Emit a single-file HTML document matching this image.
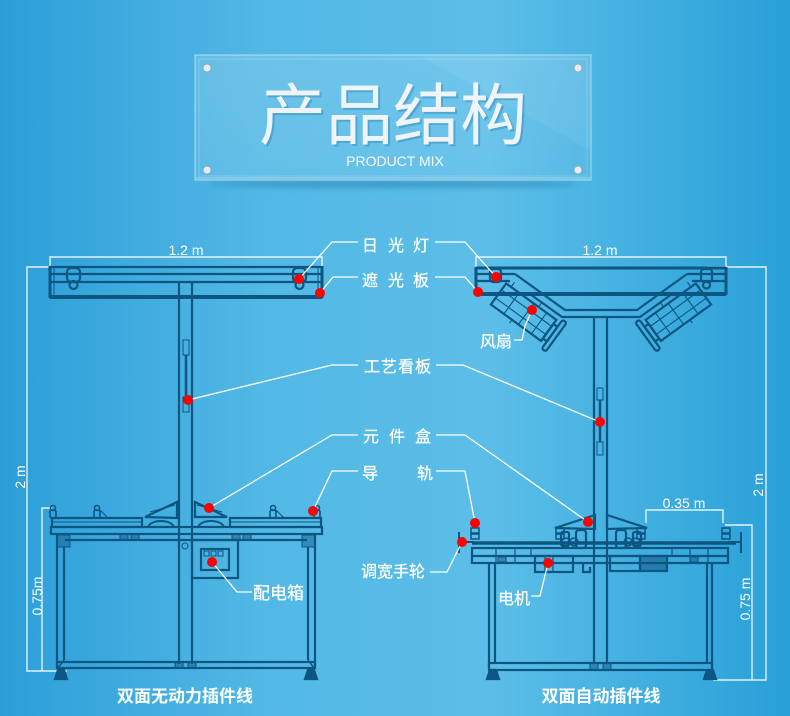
<!DOCTYPE html>
<html><head><meta charset="utf-8">
<style>
html,body{margin:0;padding:0;width:790px;height:716px;overflow:hidden;background:#4fb5e3}
svg{display:block}
text{font-family:"Liberation Sans","Noto Sans CJK SC",sans-serif;fill:#fff}
</style></head><body>
<svg width="790" height="716" viewBox="0 0 790 716" xmlns="http://www.w3.org/2000/svg">
<defs>
<linearGradient id="bg" x1="0" y1="0" x2="1" y2="0">
<stop offset="0" stop-color="#2b9ed8"/>
<stop offset="0.33" stop-color="#52b8e5"/>
<stop offset="0.62" stop-color="#5cbee8"/>
<stop offset="1" stop-color="#28a0d8"/>
</linearGradient>
<linearGradient id="pn" x1="0" y1="0" x2="1" y2="1">
<stop offset="0" stop-color="#ffffff" stop-opacity="0.16"/>
<stop offset="1" stop-color="#ffffff" stop-opacity="0.06"/>
</linearGradient>
<filter id="bl" x="-20%" y="-200%" width="140%" height="500%"><feGaussianBlur stdDeviation="3"/></filter>
</defs>
<rect width="790" height="716" fill="url(#bg)"/>

<!-- title panel -->
<ellipse cx="393" cy="184" rx="185" ry="4" fill="#0b5f93" opacity="0.35" filter="url(#bl)"/>
<rect x="195" y="55" width="396" height="125" fill="url(#pn)" stroke="#ffffff" stroke-opacity="0.45" stroke-width="1.2"/>
<rect x="199" y="59" width="388" height="117" fill="none" stroke="#ffffff" stroke-opacity="0.2"/>
<polygon points="420,56 590,56 590,150" fill="#ffffff" opacity="0.06"/>
<line x1="196" y1="178" x2="590" y2="178" stroke="#ffffff" stroke-opacity="0.45"/>
<g fill="#e4edf2" stroke="#8fa9b8" stroke-width="1">
<circle cx="207" cy="68" r="4"/><circle cx="578" cy="68" r="4"/>
<circle cx="207" cy="170" r="4"/><circle cx="578" cy="170" r="4"/>
</g>
<text x="395" y="141" font-size="67" text-anchor="middle" style="fill:#2a7fae;opacity:0.4">产品结构</text>
<text x="393" y="139" font-size="67" text-anchor="middle" style="fill:#eef4f8">产品结构</text>
<text x="395" y="166" font-size="14" text-anchor="middle" style="fill:#f4fafd">PRODUCT MIX</text>

<!-- dimension lines -->
<g stroke="#ffffff" stroke-opacity="0.85" stroke-width="1.4" fill="none">
<path d="M50,267V257H322V267"/>
<path d="M50,267H27V671H67"/>
<path d="M52,508H42V671"/>
<path d="M476,268V257H726V268"/>
<path d="M707,267H766V680H713"/>
<path d="M725,525H752V680"/>
<path d="M646,523V510H723V523"/>
</g>
<text x="186" y="255" font-size="14" text-anchor="middle">1.2 m</text>
<text x="600" y="255" font-size="14" text-anchor="middle">1.2 m</text>
<text x="684" y="508" font-size="14" text-anchor="middle">0.35 m</text>
<text transform="translate(25,477) rotate(-90)" font-size="14" text-anchor="middle">2 m</text>
<text transform="translate(42,596) rotate(-90)" font-size="14" text-anchor="middle">0.75m</text>
<text transform="translate(763,485) rotate(-90)" font-size="14" text-anchor="middle">2 m</text>
<text transform="translate(750,599) rotate(-90)" font-size="14" text-anchor="middle">0.75 m</text>

<!-- LEFT MACHINE -->
<g stroke="#0c5681" fill="none" stroke-width="2.2">
<path d="M50,267H322M50,274H322M50,282H322"/>
<path d="M50,297H322" stroke-width="4"/>
<path d="M50,266V298M322,266V298" stroke-width="3"/>
<path d="M54,267V297M318,267V297" stroke-width="1"/>
<rect x="67" y="268" width="13" height="14" rx="4"/>
<circle cx="73.5" cy="285" r="4"/>
<rect x="293" y="268" width="13" height="14" rx="4"/>
<circle cx="299.5" cy="285" r="4"/>
<path d="M179,282V664M192,282V664"/>
<rect x="183" y="340" width="6" height="15" stroke-width="1"/>
<rect x="183" y="397" width="6" height="15" stroke-width="1"/>
<path d="M186,355V397" stroke-width="2.5"/>
<!-- bench -->
<rect x="52" y="518" width="90" height="9"/>
<rect x="230" y="518" width="91" height="9"/>
<path d="M52,522H142M230,522H321" stroke-width="1"/>
<rect x="51" y="527" width="271" height="7"/>
<path d="M65,540H307"/>
<path d="M145,517L177,502V518Z"/>
<path d="M195,502L227,517H195Z"/>
<path d="M148,527C151,519 171,519 174,527M198,527C201,519 221,519 224,527" stroke-width="2"/>
<path d="M150,512L175,505M197,505L222,512" stroke-width="1"/>
<g stroke-width="1.6">
<rect x="50" y="510" width="6" height="8" rx="2"/><circle cx="53" cy="508" r="2.5"/>
<rect x="94" y="510" width="6" height="8" rx="2"/><circle cx="97" cy="508" r="2.5"/>
<rect x="270" y="510" width="6" height="8" rx="2"/><circle cx="273" cy="508" r="2.5"/>
<rect x="314" y="510" width="6" height="8" rx="2"/><circle cx="317" cy="508" r="2.5"/>
<path d="M100,510L108,518M276,510L284,518" stroke-width="1"/>
</g>
<rect x="57" y="535" width="13" height="12" fill="#0c5681" fill-opacity="0.45" stroke-width="1"/>
<rect x="302" y="535" width="13" height="12" fill="#0c5681" fill-opacity="0.45" stroke-width="1"/>
<rect x="120" y="534" width="8" height="6" fill="#0c5681" fill-opacity="0.5" stroke-width="1"/>
<rect x="131" y="534" width="8" height="6" fill="#0c5681" fill-opacity="0.5" stroke-width="1"/>
<rect x="232" y="534" width="8" height="6" fill="#0c5681" fill-opacity="0.5" stroke-width="1"/>
<rect x="243" y="534" width="8" height="6" fill="#0c5681" fill-opacity="0.5" stroke-width="1"/>
<path d="M57,534V666M64,547V660M308,547V660M315,534V666"/>
<rect x="57" y="662" width="258" height="6"/>
<path d="M64,660L58,668M308,660L314,668" stroke-width="1.5"/>
<rect x="175" y="662" width="8" height="6" fill="#0c5681" fill-opacity="0.5" stroke-width="1"/>
<rect x="188" y="662" width="8" height="6" fill="#0c5681" fill-opacity="0.5" stroke-width="1"/>
<polygon points="58,670 64,670 67,679 55,679" fill="#0c5681"/>
<polygon points="308,670 314,670 317,679 305,679" fill="#0c5681"/>
<rect x="192" y="540" width="46" height="38"/>
<rect x="201" y="549" width="28" height="21"/>
<g stroke-width="1"><rect x="204" y="551" width="5" height="5"/><rect x="211" y="551" width="5" height="5"/><rect x="218" y="551" width="5" height="5"/></g>
<circle cx="185" cy="546" r="3" stroke-width="1"/>
</g>

<!-- RIGHT MACHINE -->
<g stroke="#0c5681" fill="none" stroke-width="2.2">
<path d="M476,268H726" stroke-width="3"/>
<path d="M476,294H726" stroke-width="4"/>
<path d="M476,267V295M726,267V295" stroke-width="3"/>
<path d="M476,274H515M476,281H510M687,274H726M692,281H726"/>
<rect x="490" y="269" width="11" height="13" rx="3"/>
<rect x="701" y="269" width="11" height="13" rx="3"/>
<circle cx="706.5" cy="285" r="3.5"/>
<path d="M515,274L565,310H637L687,274"/>
<path d="M530,294L562,317H640L672,294"/>
<g id="fan" transform="translate(524,310) rotate(36)">
<rect x="-30" y="-11" width="62" height="26"/>
<path d="M-30,-3H32M-30,7H32M-14,-11V15M4,-11V15M20,-11V15" stroke-width="1.1"/>
<path d="M-24,-11V-17M10,-11V-17M-4,15V19" stroke-width="1.1"/>
<rect x="32" y="-6" width="5" height="18"/>
<rect x="37" y="-15" width="5" height="36" rx="2.5"/>
</g>
<use href="#fan" transform="translate(1202,0) scale(-1,1)"/>
<path d="M594,317V664M607,317V664"/>
<rect x="597" y="388" width="6" height="12" stroke-width="1"/>
<rect x="597" y="442" width="6" height="13" stroke-width="1"/>
<path d="M600,400V442" stroke-width="2.5"/>
<!-- bench -->
<path d="M472,543H736" stroke-width="3.5"/>
<rect x="472" y="548" width="256" height="15"/>
<path d="M472,556H728"/>
<path d="M496,548V563M515,548V563M531,548V556M672,548V556M690,548V563M708,548V563" stroke-width="1.2"/>
<rect x="498" y="557" width="8" height="5" fill="#0c5681" fill-opacity="0.5" stroke-width="1"/>
<rect x="690" y="557" width="8" height="5" fill="#0c5681" fill-opacity="0.5" stroke-width="1"/>
<g stroke-width="1.5">
<rect x="471" y="528" width="8" height="5"/><rect x="471" y="534" width="8" height="5"/>
<rect x="556" y="528" width="8" height="5"/><rect x="556" y="534" width="8" height="5"/>
<rect x="637" y="528" width="8" height="5"/><rect x="637" y="534" width="8" height="5"/>
<rect x="722" y="528" width="8" height="5"/><rect x="722" y="534" width="8" height="5"/>
<circle cx="566" cy="542" r="4"/><circle cx="574" cy="542" r="4"/>
<circle cx="628" cy="542" r="4"/><circle cx="636" cy="542" r="4"/>
</g>
<path d="M555,528L595,515V529Z"/>
<path d="M647,528L607,515V529Z"/>
<rect x="576" y="530" width="10" height="18" rx="3"/>
<rect x="561" y="532" width="8" height="14" rx="2"/>
<rect x="616" y="530" width="10" height="18" rx="3"/>
<rect x="633" y="532" width="8" height="14" rx="2"/>
<rect x="535" y="556" width="38" height="16"/>
<path d="M545,556V572M553,556V572" stroke-width="1.2"/>
<rect x="610" y="556" width="30" height="15"/>
<rect x="640" y="556" width="27" height="15" fill="#0c5681" fill-opacity="0.55"/>
<path d="M583,563V572H590V567"/>
<path d="M489,563V668M495,563V663M707,563V663M712,563V668"/>
<rect x="489" y="663" width="223" height="7"/>
<rect x="590" y="663" width="8" height="7" fill="#0c5681" fill-opacity="0.5" stroke-width="1"/>
<rect x="603" y="663" width="8" height="7" fill="#0c5681" fill-opacity="0.5" stroke-width="1"/>
<polygon points="490,670 496,670 499,679 487,679" fill="#0c5681"/>
<polygon points="707,670 713,670 716,679 704,679" fill="#0c5681"/>
<path d="M459,532V553M459,542H474M741,532V553M728,542H741" stroke-width="2"/>
</g>

<!-- leader lines -->
<g stroke="#ffffff" stroke-width="1.3" fill="none">
<path d="M299,279L332,242H358M435,242H465L496,277"/>
<path d="M320,293L333,277H358M435,277H465L478,292"/>
<path d="M188,400L332,365H358M436,365H463L600,422"/>
<path d="M209,508L332,435H358M436,435H465L588,522"/>
<path d="M313,511L332,471H358M436,471H465L475,523"/>
<path d="M462,542L447,572H430"/>
<path d="M532,310L525,326L522,340H514"/>
<path d="M548,563L540,596H531"/>
<path d="M212,562L237,592H252"/>
</g>

<!-- red dots -->
<g fill="#ff0000">
<circle cx="299" cy="279" r="5"/><circle cx="320" cy="293" r="5"/>
<circle cx="188" cy="400" r="5"/><circle cx="209" cy="508" r="5"/>
<circle cx="313" cy="511" r="5"/><circle cx="212" cy="562" r="5"/>
<circle cx="496" cy="277" r="5"/><circle cx="478" cy="292" r="5"/>
<circle cx="532" cy="310" r="5"/><circle cx="600" cy="422" r="5"/>
<circle cx="588" cy="522" r="5"/><circle cx="475" cy="523" r="5"/>
<circle cx="462" cy="542" r="5"/><circle cx="548" cy="563" r="5"/>
</g>

<!-- labels -->
<g font-size="16" style="stroke:#ffffff;stroke-width:0.25">
<text x="362 388 413" y="251">日光灯</text>
<text x="362 388 413" y="286">遮光板</text>
<text x="364 381 398 415" y="372">工艺看板</text>
<text x="363 389 415" y="442">元件盒</text>
<text x="362 417" y="479">导轨</text>
<text x="361 377 393 409" y="577">调宽手轮</text>
<text x="480 496" y="347">风扇</text>
<text x="498 514" y="604">电机</text>
<text x="253" y="599" font-size="17">配电箱</text>
</g>
<text x="185" y="702" font-size="17" font-weight="bold" text-anchor="middle">双面无动力插件线</text>
<text x="601" y="702" font-size="17" font-weight="bold" text-anchor="middle">双面自动插件线</text>
</svg>
</body></html>
